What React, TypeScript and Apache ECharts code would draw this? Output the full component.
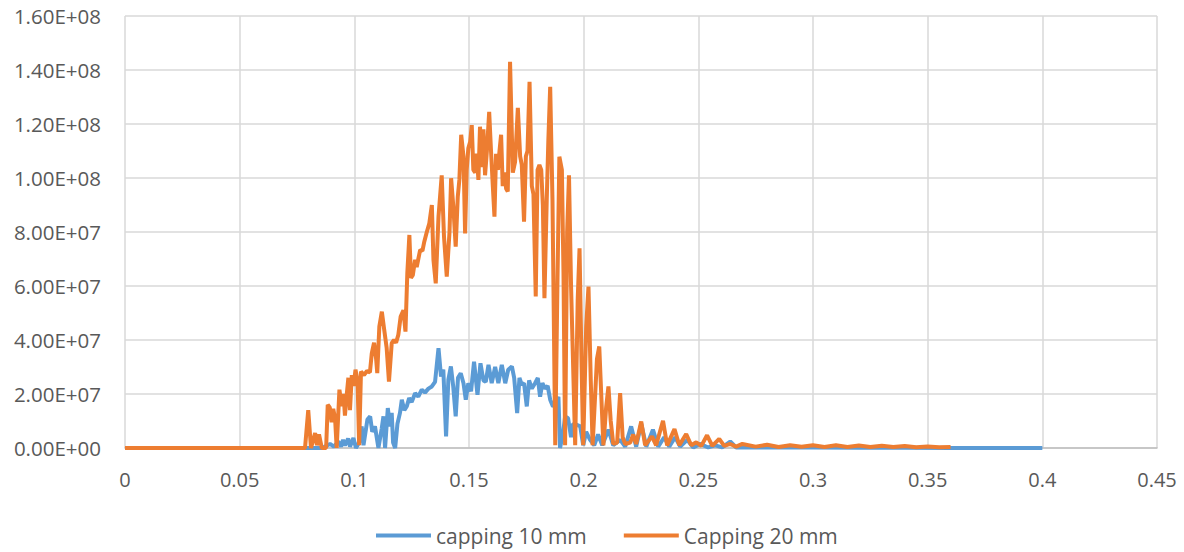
import React, { useEffect, useRef } from "react";
import * as echarts from "echarts";

// Values in units of 1e7 (y) and seconds-like x units
const Y_UNIT = 1e7;

const blueX = [
  0, 0.0859, 0.0894, 0.0911, 0.093, 0.0942, 0.0951, 0.0959, 0.0973, 0.0981, 0.0996, 0.1007, 0.1021, 0.1032,
  0.104, 0.1057, 0.1069, 0.1078, 0.109, 0.1105, 0.1119, 0.1127, 0.1134, 0.1146, 0.1156, 0.1163, 0.1169, 0.1178,
  0.1188, 0.1199, 0.1207, 0.1218, 0.1229, 0.1239, 0.125, 0.1265, 0.1279, 0.1294, 0.1308, 0.1323, 0.1338, 0.1352,
  0.1367, 0.1378, 0.1388, 0.14, 0.141, 0.1421, 0.1431, 0.1442, 0.1452, 0.1464, 0.1476, 0.1486, 0.1497, 0.1509,
  0.1522, 0.1537, 0.155, 0.1563, 0.1573, 0.1585, 0.1599, 0.1614, 0.1628, 0.1643, 0.1658, 0.1671, 0.1687, 0.1697,
  0.171, 0.172, 0.173, 0.174, 0.1752, 0.1762, 0.1774, 0.1788, 0.18, 0.181, 0.182, 0.1832, 0.1843, 0.1854, 0.1866,
  0.1876, 0.189, 0.1897, 0.1911, 0.1919, 0.1932, 0.1945, 0.1954, 0.197, 0.1985, 0.1998, 0.2011, 0.2028, 0.2046,
  0.2063, 0.2081, 0.2108, 0.2129, 0.2159, 0.2181, 0.2207, 0.2229, 0.2251, 0.2273, 0.2302, 0.2325, 0.2351, 0.2373,
  0.2399, 0.2421, 0.2452, 0.2478, 0.2508, 0.2543, 0.2574, 0.2604, 0.2639, 0.2665, 0.27, 0.28, 0.29, 0.3, 0.32,
  0.34, 0.36, 0.38, 0.4,
];
const blueY = [
  0, 0, 0.15, 0.05, 0.24, 0.05, 0.3, 0.1, 0.35, 0.05, 0.37, 0, 0.2, 0.8,
  0.1, 1.05, 1.17, 0.6, 0.8, 0, 0.7, 1.17, 0, 1.48, 0.8, 1.3, 0.2, 0,
  0.9, 1.3, 1.79, 1.4, 1.55, 1.85, 1.7, 2.03, 1.9, 2.16, 2.05, 2.2, 2.28, 2.45,
  3.7, 2.65, 2.9, 0.43, 2.53, 3.02, 2.3, 1.17, 2.6, 2.77, 2.4, 1.79, 2.4, 2.1,
  3.2, 1.97, 3.14, 2.5, 2.45, 3.08, 2.4, 3.0, 2.4, 3.08, 2.4, 2.9, 3.02, 2.6,
  1.29, 2.6, 2.35, 2.4, 1.54, 2.5, 2.2, 2.4, 2.59, 1.9, 2.4, 2.2, 2.3, 1.79, 1.54,
  1.6, 1.9, 0, 0.6, 1.17, 1.1, 0.4, 0.9, 0.86, 0.8, 0.1, 0.6, 0.3, 0.1,
  0.5, 0.1, 0.68, 0.1, 0.3, 0.05, 0.8, 0.05, 0.9, 0.05, 0.68, 0.05, 0.4, 0.05,
  0.4, 0.05, 0.3, 0.02, 0.15, 0.02, 0.1, 0.02, 0.24, 0.02, 0.03, 0.02, 0.02, 0.02, 0.01,
  0.01, 0, 0, 0,
];

const orangeX = [
  0, 0.0785, 0.0799, 0.0811, 0.0829, 0.0837, 0.0846, 0.0858, 0.0877, 0.0884, 0.0893, 0.0901, 0.0908, 0.0916,
  0.0923, 0.0935, 0.0945, 0.0953, 0.0959, 0.0966, 0.0974, 0.0981, 0.0989, 0.0997, 0.1005, 0.1014, 0.1021, 0.1029,
  0.1042, 0.1055, 0.1068, 0.1076, 0.1086, 0.1095, 0.11, 0.1109, 0.112, 0.113, 0.1141, 0.1151, 0.1163, 0.1173,
  0.1182, 0.1192, 0.1202, 0.1214, 0.1223, 0.1231, 0.124, 0.1247, 0.1255, 0.1265, 0.1272, 0.1279, 0.1287, 0.1297,
  0.1305, 0.1316, 0.1327, 0.1338, 0.1345, 0.1355, 0.1367, 0.1381, 0.1391, 0.1403, 0.1415, 0.1422, 0.1432, 0.1442,
  0.1451, 0.1458, 0.1466, 0.1476, 0.1483, 0.149, 0.1497, 0.1505, 0.1512, 0.1519, 0.1527, 0.1534, 0.1541, 0.1548,
  0.1556, 0.1563, 0.157, 0.1578, 0.1588, 0.1596, 0.1604, 0.1611, 0.1618, 0.1626, 0.1633, 0.164, 0.1647, 0.1654,
  0.1662, 0.1669, 0.1679, 0.1691, 0.1701, 0.1713, 0.1723, 0.173, 0.174, 0.1748, 0.1755, 0.1764, 0.1774, 0.1781,
  0.1791, 0.1799, 0.1807, 0.1815, 0.1822, 0.1829, 0.1839, 0.1846, 0.1854, 0.1864, 0.1876, 0.1886, 0.1894, 0.1905,
  0.1912, 0.1919, 0.1928, 0.1936, 0.1945, 0.1963, 0.1974, 0.1982, 0.1991, 0.1998, 0.2011, 0.2021, 0.2031, 0.2039,
  0.2058, 0.2068, 0.2079, 0.2086, 0.2098, 0.2108, 0.2118, 0.2129, 0.2146, 0.2159, 0.217, 0.2181, 0.2203, 0.2216,
  0.2229, 0.2251, 0.2268, 0.2298, 0.2316, 0.2346, 0.2364, 0.2396, 0.2417, 0.2447, 0.2469, 0.2491, 0.2513, 0.2538,
  0.2561, 0.2591, 0.2613, 0.2639, 0.2665, 0.2692, 0.275, 0.28, 0.285, 0.29, 0.295, 0.3, 0.305, 0.31, 0.315, 0.32,
  0.325, 0.33, 0.335, 0.34, 0.345, 0.35, 0.355, 0.36,
];
const orangeY = [
  0, 0, 1.4, 0, 0.55, 0.1, 0.5, 0, 0, 1.6, 1.5, 0.95, 1.45, 1.1,
  0, 2.16, 1.55, 2.0, 1.2, 1.9, 2.6, 1.4, 2.7, 2.3, 2.9, 2.5, 0.1, 2.83,
  2.7, 2.85, 2.8, 3.5, 3.9, 3.3, 2.77, 4.5, 5.05, 4.4, 3.7, 2.46, 3.88, 4.0,
  3.9, 4.2, 4.87, 5.1, 4.31, 6.47, 7.89, 6.3, 6.4, 6.97, 6.7, 7.0, 7.34, 7.3,
  7.64, 8.0, 8.32, 9.0, 6.97, 6.1, 8.57, 10.1, 7.83, 6.35, 8.0, 9.99, 8.9, 7.46,
  9.3, 9.93, 11.6, 10.8, 7.95, 10.3, 11.1, 11.34, 11.96, 10.3, 10.2, 10.9, 9.93, 11.9,
  10.4, 11.8, 10.1, 11.0, 12.45, 11.0, 9.68, 8.57, 10.9, 10.3, 11.0, 11.6, 9.7, 10.2,
  9.6, 9.5, 14.3, 10.2, 10.6, 12.6, 10.8, 10.5, 8.38, 10.8, 11.0, 13.56, 9.7, 9.4,
  5.61, 10.3, 10.48, 10.3, 9.0, 5.55, 9.2, 11.4, 13.38, 9.2, 0.1, 6.3, 10.79, 10.3,
  6.5, 0.1, 8.0, 10.1, 6.0, 0.1, 5.5, 7.4, 3.0, 0.1, 4.5, 5.98, 2.5, 0.1,
  3.3, 3.76, 1.5, 0.1, 1.5, 2.28, 1.0, 0.15, 0.2, 2.03, 0.4, 0.15, 0.2, 0.5,
  0.15, 0.98, 0.1, 0.43, 0.1, 1.01, 0.1, 0.7, 0.1, 0.52, 0.1, 0.21, 0.08, 0.47,
  0.08, 0.34, 0.08, 0.15, 0.05, 0.15, 0.05, 0.12, 0.04, 0.1, 0.05, 0.1, 0.04, 0.1, 0.04, 0.09,
  0.04, 0.08, 0.04, 0.07, 0.03, 0.06, 0.03, 0.04,
];

const xTicks = { min: 0, max: 0.45, interval: 0.05 };
const yTicks = { min: 0, max: 1.6e8, interval: 2e7 };
const seriesNames = ["capping 10 mm", "Capping 20 mm"];

function zip(xs: number[], ys: number[]) {
  return xs.map((x, i) => [x, ys[i] * Y_UNIT]);
}

function sci(v: number) {
  const [m, e] = v.toExponential(2).split("e");
  const sign = e[0] === "-" ? "-" : "+";
  const digits = e.replace(/^[+-]/, "").padStart(2, "0");
  return `${m}E${sign}${digits}`;
}

export default function App() {
  const ref = useRef<HTMLDivElement>(null);
  useEffect(() => {
    if (!ref.current) return;
    const chart = echarts.init(ref.current, undefined, { renderer: "svg" });
    const font = "'Open Sans', sans-serif";
    chart.setOption({
      animation: false,
      backgroundColor: "#ffffff",
      grid: { left: 125, right: 27, top: 16, bottom: 104, containLabel: false },
      xAxis: {
        type: "value",
        ...xTicks,
        axisLine: { show: true, lineStyle: { color: "#BFBFBF", width: 1.5 } },
        axisTick: { show: false },
        splitLine: { show: true, lineStyle: { color: "#D9D9D9", width: 1.5 } },
        axisLabel: { color: "#595959", fontSize: 20, fontFamily: font, margin: 21 },
      },
      yAxis: {
        type: "value",
        ...yTicks,
        axisLine: { show: false },
        axisTick: { show: false },
        splitLine: { show: true, lineStyle: { color: "#D9D9D9", width: 1.5 } },
        axisLabel: { color: "#595959", fontSize: 20.5, fontFamily: font, margin: 24, formatter: sci },
      },
      legend: {
        top: 520,
        left: 371,
        itemWidth: 55,
        itemHeight: 4,
        itemGap: 37,
        icon: "rect",
        textStyle: { color: "#595959", fontSize: 21, fontFamily: font, padding: [0, 0, 0, 0] },
        data: seriesNames,
      },
      series: [
        {
          name: seriesNames[0],
          type: "line",
          data: zip(blueX, blueY),
          showSymbol: false,
          symbol: "none",
          lineStyle: { color: "#5B9BD5", width: 4 },
          itemStyle: { color: "#5B9BD5" },
          z: 2,
        },
        {
          name: seriesNames[1],
          type: "line",
          data: zip(orangeX, orangeY),
          showSymbol: false,
          symbol: "none",
          lineStyle: { color: "#ED7D31", width: 4 },
          itemStyle: { color: "#ED7D31" },
          z: 3,
        },
      ],
    });
    return () => chart.dispose();
  }, []);
  return (
    <div
      ref={ref}
      style={{ position: "absolute", left: 0, top: 0, width: 1184, height: 552 }}
    />
  );
}
